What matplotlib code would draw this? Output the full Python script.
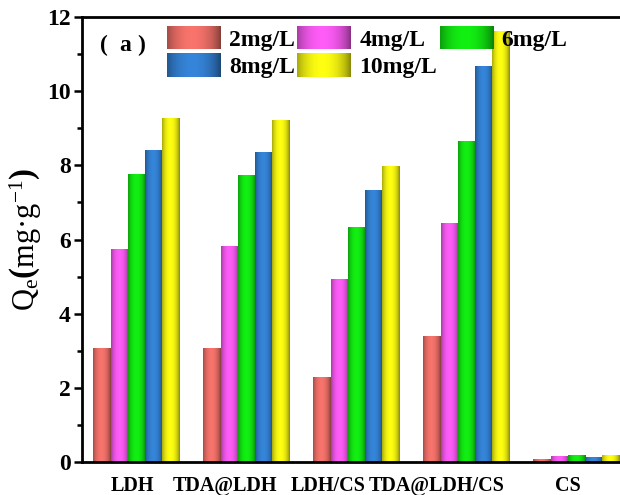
import matplotlib
matplotlib.use("Agg")
import matplotlib.pyplot as plt
import numpy as np
from matplotlib.patches import Patch

plt.rcParams['font.family'] = ['Liberation Serif', 'Noto Sans CJK SC']
plt.rcParams['font.weight'] = 'bold'
plt.rcParams['mathtext.fontset'] = 'custom'
plt.rcParams['mathtext.rm'] = 'Liberation Serif:bold'
plt.rcParams['mathtext.it'] = 'Liberation Serif:bold'
plt.rcParams['mathtext.bf'] = 'Liberation Serif:bold'

# data
samples = ["LDH", "TDA@LDH", "LDH/CS", "TDA@LDH/CS", "CS"]
conc = ["2mg/L", "4mg/L", "6mg/L", "8mg/L", "10mg/L"]
q_2 = [3.07, 3.07, 2.28, 3.38, 0.08]
q_4 = [5.72, 5.80, 4.93, 6.43, 0.15]
q_6 = [7.75, 7.72, 6.32, 8.65, 0.18]
q_8 = [8.40, 8.35, 7.32, 10.66, 0.13]
q_10 = [9.25, 9.22, 7.98, 11.62, 0.18]
series = [q_2, q_4, q_6, q_8, q_10]
colors = ["#F8746C", "#FF5CF8", "#12F012", "#3585DA", "#FFFF12"]

# label shift (the original labels sit a bit left of the groups)
lab_shift = [-0.04, -0.2, -0.26, -0.27, -0.08]

fig = plt.figure(figsize=(6.2, 4.95), dpi=100)
ax = fig.add_axes([82/620, 1-462/495, 550/620, 445/495])

x = np.arange(len(samples))
w = 0.157
t = np.linspace(0, 1, 40)
shade = 0.25 + 0.75*np.sin(np.pi*(0.1 + 0.85*t))**0.5

def grad(c):
    rgb = np.array(matplotlib.colors.to_rgb(c))
    return (shade[:, None]*rgb[None, :])[None, :, :]

for i, vals in enumerate(series):
    img = grad(colors[i])
    for j, v in enumerate(vals):
        x0 = x[j] + (i-2)*w - w/2
        ax.imshow(img, extent=[x0, x0+w, 0, v], aspect='auto', zorder=2,
                  interpolation='bilinear')

ax.set_xlim(-0.495, 4.505)
ax.set_ylim(0, 12)
ax.set_xticks(x + np.array(lab_shift))
ax.set_xticklabels(samples, fontsize=14.5, fontweight='bold')
ax.tick_params(axis='x', length=0, pad=10)
ax.set_yticks(np.arange(0, 13, 2))
ax.set_yticks(np.arange(1, 12, 2), minor=True)
ax.tick_params(axis='y', which='major', length=6, width=1.8, labelsize=17, pad=2)
ax.tick_params(axis='y', which='minor', length=3.5, width=1.8)
for s in ax.spines.values():
    s.set_linewidth(2)
ax.set_ylabel(r'$\mathregular{Q_e}\left(\mathregular{mg·g^{-1}}\right)$', fontsize=22, labelpad=2)

# legend, row-wise order
order = [0, 3, 1, 4, 2]
handles = [Patch(facecolor='none', edgecolor='none') for c in colors]
leg = ax.legend([handles[k] for k in order], [conc[k] for k in order], ncol=3,
                loc='upper left', bbox_to_anchor=(0.1545, 0.98),
                frameon=False, fontsize=17, handlelength=2.25, handleheight=1.15,
                handletextpad=0.38, columnspacing=0.1, labelspacing=0.12,
                borderaxespad=0, borderpad=0)

ax.text(0.033, 0.935, "(", transform=ax.transAxes, fontsize=17, va='center')
ax.text(0.068, 0.935, "a", transform=ax.transAxes, fontsize=17, va='center')
ax.text(0.1, 0.935, ")", transform=ax.transAxes, fontsize=17, va='center')

fig.canvas.draw()
for k, h in zip(order, leg.legend_handles):
    bb = h.get_window_extent().transformed(fig.transFigure.inverted())
    hax = fig.add_axes([bb.x0, bb.y0, bb.width, bb.height])
    hax.imshow(grad(colors[k]), aspect='auto', interpolation='bilinear')
    hax.axis('off')

fig.savefig("out.png", dpi=100)
